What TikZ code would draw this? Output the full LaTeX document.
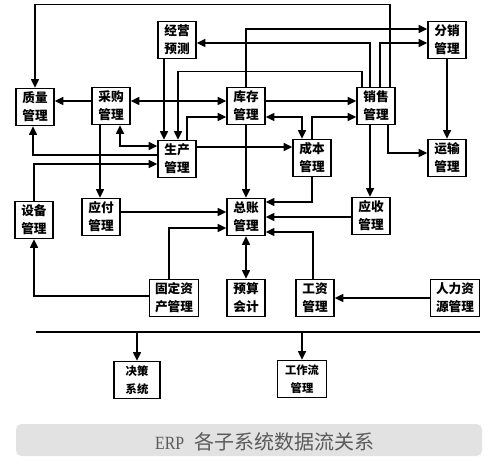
\documentclass[tikz,border=0pt]{standalone}
\usepackage{fontspec}
\newfontfamily\cjk{Noto Sans CJK SC}
\newfontfamily\capserif{Liberation Serif}
\usetikzlibrary{arrows.meta}
\definecolor{capbg}{HTML}{E2E2E2}
\definecolor{captxt}{HTML}{5A5A5A}
\begin{document}
\begin{tikzpicture}[x={(0.75pt,0)}, y={(0,-0.75pt)},
  box/.style={draw, line width=1.1pt, minimum width=28.5pt, minimum height=27.75pt,
    inner sep=0pt, align=center, fill=white, font=\cjk\bfseries\fontsize{9.5}{13.5}\selectfont},
  wide/.style={box, minimum width=36.75pt},
  small/.style={box, font=\cjk\bfseries\fontsize{8.5}{13.5}\selectfont},
  arr/.style={line width=1pt, -{Triangle[length=6.5pt,width=6pt]}},
  both/.style={line width=1pt, {Triangle[length=6.5pt,width=6pt]}-{Triangle[length=6.5pt,width=6pt]}},
  plain/.style={line width=1pt}]
\fill[white] (0,0) rectangle (499,470);
\useasboundingbox (0,0) rectangle (499,470);

% nodes
\node[box] (zl) at (35,107) {质量\\管理};
\node[box] (cg) at (111,106) {采购\\管理};
\node[box] (jy) at (177,40) {经营\\预测};
\node[box] (sc) at (177,159) {生产\\管理};
\node[box] (kc) at (246,106) {库存\\管理};
\node[box] (xs) at (376,106) {销售\\管理};
\node[box] (cb) at (312,158) {成本\\管理};
\node[box] (fx) at (447,40) {分销\\管理};
\node[box] (ys) at (447,158) {运输\\管理};
\node[box] (sb) at (34,220) {设备\\管理};
\node[box] (yf) at (101,217) {应付\\管理};
\node[box] (zz) at (246,217) {总账\\管理};
\node[box] (yshou) at (371,216) {应收\\管理};
\node[wide] (gd) at (174,298) {固定资\\产管理};
\node[box] (yusuan) at (246,298) {预算\\会计};
\node[box] (gz) at (315,298) {工资\\管理};
\node[wide] (rl) at (455,298) {人力资\\源管理};
\node[small, minimum width=34.5pt] (jc) at (137,380) {决策\\系统};
\node[small, minimum width=36.75pt] (gzl) at (302,379) {工作流\\管理};

% connectors from 销售
\draw[arr] ([xshift=10.5pt]xs.north) -- ++(0,-82) -| (zl.north);
\draw[arr] ([xshift=-4.5pt]xs.north) |- ([yshift=-2.25pt]jy.east);
\draw[arr] ([xshift=3pt]xs.north) |- ([yshift=-2.25pt]fx.west);
\draw[arr] ([xshift=-10.5pt]xs.north) -- ++(0,-15) -| ([xshift=0.75pt]sc.north);
\draw[arr] ([xshift=9pt]xs.south) |- ([yshift=3.75pt]ys.west);
\draw[arr] ([xshift=-4.5pt]xs.south) -- ([xshift=-0.75pt]yshou.north);

% others
\draw[arr] ([xshift=-9.75pt]jy.south) -- ([xshift=-9.75pt]sc.north);
\draw[arr] (kc.north) |- ([yshift=8.25pt]fx.west);
\draw[arr] ([yshift=3.75pt]cg.west) -- ([yshift=4.5pt]zl.east);
\draw[both] ([yshift=3.75pt]cg.east) -- ([yshift=3.75pt]kc.west);
\draw[arr] ([xshift=7.5pt]sc.north) |- ([yshift=-8.25pt]kc.west);
\draw[both] ([xshift=6.75pt]cg.south) |- ([yshift=9.75pt]sc.west);
\draw[arr] ([yshift=3pt]sc.west) -| ([xshift=-1.5pt]zl.south);
\draw[arr] (sb.north) |- ([yshift=-3.75pt]sc.west);
\draw[arr] ([xshift=-8.25pt]cg.south) -- ([xshift=-0.75pt]yf.north);
\draw[arr] ([yshift=3.75pt]kc.east) -- ([yshift=3.75pt]xs.west);
\draw[both] ([yshift=-8.25pt]kc.east) -| ([xshift=-7.5pt]cb.north);
\draw[arr] (cb.north) |- ([yshift=-8.25pt]xs.west);
\draw[arr] ([yshift=9pt]sc.east) -- ([yshift=8.25pt]cb.west);
\draw[arr] (fx.south) -- (ys.north);
\draw[arr] (kc.south) -- (zz.north);
\draw[arr] (cb.south) |- ([yshift=11.25pt]zz.east);
\draw[arr] ([yshift=-0.75pt]yshou.west) -- (zz.east);
\draw[arr] ([xshift=-1.5pt]gz.north) |- ([yshift=-11.25pt]zz.east);
\draw[arr] ([yshift=3.75pt]yf.east) -- ([yshift=3.75pt]zz.west);
\draw[arr] ([xshift=-3.75pt]gd.north) |- ([yshift=-8.25pt]zz.west);
\draw[arr] ([yshift=1.5pt]gd.west) -| (sb.south);
\draw[both] (zz.south) -- (yusuan.north);
\draw[arr] (rl.west) -- (gz.east);

% bus
\coordinate (busL) at (36,332);
\coordinate (busR) at (480,332);
\draw[plain] (busL) -- (busR);
\draw[arr] (jc.north |- busL) -- (jc.north);
\draw[arr] (gzl.north |- busL) -- (gzl.north);

% caption
\fill[capbg, rounded corners=4pt] (16,424) rectangle (482,456);
\node[text=captxt, inner sep=0pt] (cap) at (265,442)
  {\scalebox{0.85}[1]{\capserif\fontsize{14}{16}\selectfont ERP}\hspace{8pt}{\cjk\fontsize{15}{18}\selectfont 各子系统数据流关系}};
\end{tikzpicture}
\end{document}
